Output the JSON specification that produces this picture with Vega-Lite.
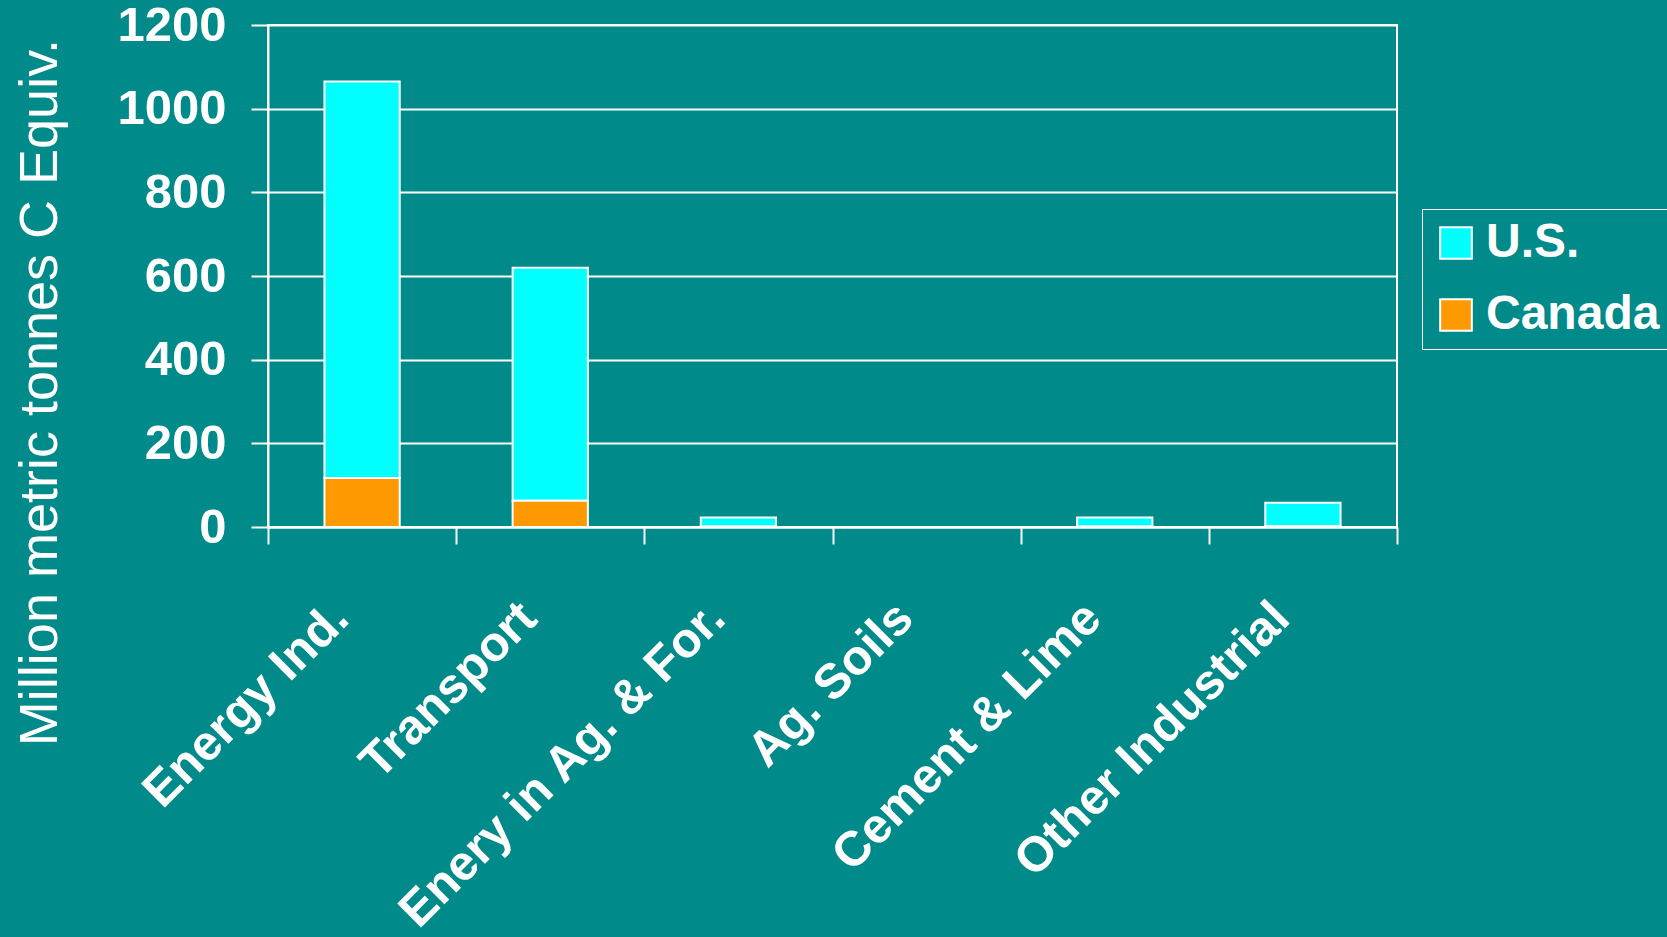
{
  "$schema": "https://vega.github.io/schema/vega-lite/v6.json",
  "width": 1129,
  "height": 502,
  "autosize": {"type": "none"},
  "padding": {"left": 268, "top": 25, "right": 270, "bottom": 410},
  "background": "#008a8a",
  "config": {
    "font": "Liberation Sans",
    "view": {"stroke": "white", "strokeWidth": 2},
    "axis": {
      "domainColor": "white",
      "domainWidth": 2,
      "tickColor": "white",
      "tickWidth": 2,
      "tickSize": 17,
      "gridColor": "white",
      "gridWidth": 2,
      "gridOpacity": 1,
      "labelColor": "white",
      "labelFont": "Liberation Sans",
      "labelFontWeight": "bold",
      "titleColor": "white",
      "titleFont": "Liberation Sans"
    }
  },
  "data": {
    "values": [
      {"sector": "Energy Ind.", "country": "U.S.", "value": 948},
      {"sector": "Energy Ind.", "country": "Canada", "value": 117},
      {"sector": "Transport", "country": "U.S.", "value": 557},
      {"sector": "Transport", "country": "Canada", "value": 63},
      {"sector": "Enery in Ag. & For.", "country": "U.S.", "value": 22},
      {"sector": "Enery in Ag. & For.", "country": "Canada", "value": 1},
      {"sector": "Ag. Soils", "country": "U.S.", "value": 0},
      {"sector": "Ag. Soils", "country": "Canada", "value": 0},
      {"sector": "Cement & Lime", "country": "U.S.", "value": 22},
      {"sector": "Cement & Lime", "country": "Canada", "value": 1},
      {"sector": "Other Industrial", "country": "U.S.", "value": 56},
      {"sector": "Other Industrial", "country": "Canada", "value": 2}
    ]
  },
  "mark": {"type": "bar", "stroke": "white", "strokeWidth": 2, "width": {"band": 0.4}},
  "encoding": {
    "x": {
      "field": "sector",
      "type": "nominal",
      "sort": null,
      "scale": {"paddingInner": 0, "paddingOuter": 0},
      "axis": {
        "title": null,
        "labelAngle": -45,
        "labelAlign": "right",
        "labelBaseline": "middle",
        "labelFontSize": 49,
        "labelPadding": 66,
        "labelOffset": -22,
        "labelLimit": 0,
        "tickBand": "extent",
        "grid": false
      }
    },
    "y": {
      "field": "value",
      "type": "quantitative",
      "stack": "zero",
      "scale": {"domain": [0, 1200], "nice": false},
      "axis": {
        "values": [0, 200, 400, 600, 800, 1000, 1200],
        "format": "d",
        "grid": true,
        "labelFontSize": 49,
        "labelPadding": 25,
        "title": "Million metric tonnes C Equiv.",
        "titleFontSize": 54,
        "titleFontWeight": "normal",
        "titleAngle": -90,
        "titleAlign": "center",
        "titleBaseline": "alphabetic",
        "titleX": -212,
        "titleY": 367
      }
    },
    "color": {
      "field": "country",
      "type": "nominal",
      "scale": {"domain": ["U.S.", "Canada"], "range": ["#00FFFF", "#FF9900"]},
      "legend": {
        "title": null,
        "orient": "none",
        "legendX": 1154,
        "legendY": 184,
        "strokeColor": "white",
        "padding": 10,
        "symbolType": "square",
        "symbolSize": 1000,
        "symbolStrokeColor": "white",
        "symbolStrokeWidth": 2,
        "symbolOpacity": 1,
        "labelFontSize": 48,
        "labelFontWeight": "bold",
        "labelColor": "white",
        "labelOffset": 6,
        "labelLimit": 0,
        "rowPadding": 24
      }
    },
    "order": {"field": "country", "sort": "ascending"}
  }
}
